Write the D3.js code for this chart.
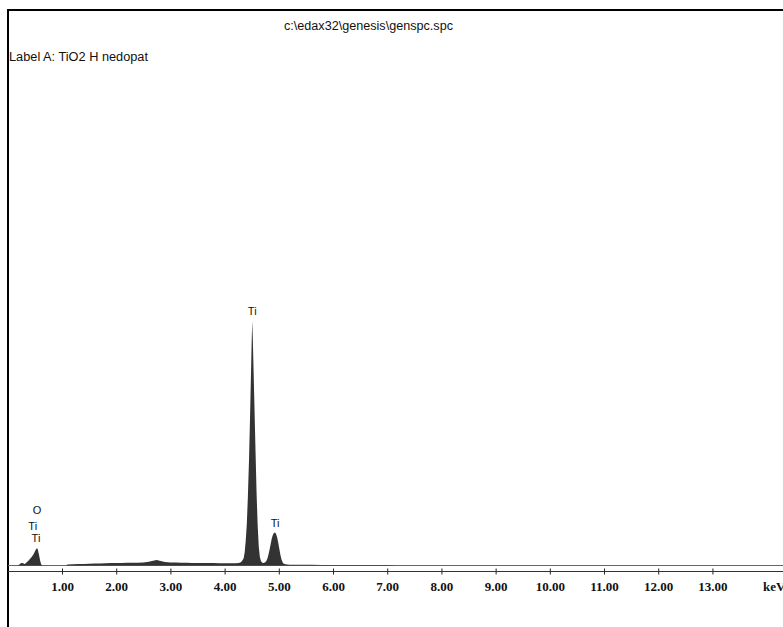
<!DOCTYPE html>
<html>
<head>
<meta charset="utf-8">
<script src="https://cdn.jsdelivr.net/npm/d3@7"></script>
<style>
  html, body { margin: 0; padding: 0; background: #ffffff; }
  svg { display: block; }
</style>
</head>
<body>
<svg id="chart" width="783" height="627"></svg>
<script>
// ---------- data ----------
const titleText = "c:\\edax32\\genesis\\genspc.spc";
const labelText = "Label A: TiO2 H nedopat";
const axisUnit = "keV";

const energies = [
  0.18, 0.20, 0.22, 0.24, 0.26, 0.28, 0.30, 0.32, 0.34, 0.36, 0.38, 0.40, 0.42, 0.44, 0.46, 0.48, 0.50, 0.52, 0.54, 0.55, 0.56, 0.58, 0.60, 0.62, 0.64,
  1.08, 1.10, 1.20, 1.30, 1.40, 1.50, 1.60, 1.70, 1.80, 1.90, 2.00, 2.10, 2.20, 2.30, 2.40, 2.50, 2.60, 2.70, 2.75, 2.80, 2.90,
  3.00, 3.10, 3.20, 3.30, 3.40, 3.50, 3.60, 3.70, 3.80, 3.90, 4.00, 4.10, 4.20, 4.26, 4.30,
  4.32, 4.35, 4.37, 4.39, 4.41, 4.43, 4.45, 4.47, 4.49, 4.50, 4.51, 4.52, 4.53, 4.55, 4.57, 4.59, 4.61, 4.63, 4.65, 4.67, 4.69, 4.71, 4.73,
  4.75, 4.77, 4.79, 4.81, 4.83, 4.85, 4.87, 4.89, 4.91, 4.93, 4.95, 4.97, 4.99, 5.01, 5.03, 5.05, 5.07, 5.09, 5.12,
  5.20, 5.40, 5.60, 5.80, 6.00, 6.20, 6.40, 6.60, 6.80, 7.00, 7.10, 7.15, 14.3
];
const counts = [
  0, 4, 12, 22, 26, 24, 14, 18, 28, 38, 48, 60, 72, 86, 100, 118, 140, 162, 172, 165, 145, 95, 40, 8, 0,
  0, 10, 13, 15, 16, 18, 19, 21, 22, 24, 26, 25, 27, 27, 28, 31, 38, 50, 54, 47, 36,
  31, 29, 28, 27, 26, 26, 25, 24, 24, 23, 22, 22, 23, 26, 32,
  45, 70, 130, 250, 420, 700, 1050, 1500, 2000, 2250, 2450, 2270, 2050, 1600, 1150, 720, 400, 190, 85, 45, 30, 26, 28,
  32, 45, 70, 110, 160, 215, 270, 305, 325, 330, 315, 280, 225, 165, 105, 60, 32, 18, 12,
  8, 7, 7, 6, 6, 6, 5, 5, 4, 4, 3, 0, 0
];

const tickValues = [1,2,3,4,5,6,7,8,9,10,11,12,13];

const peakLabels = ["O", "Ti", "Ti", "Ti", "Ti"];
const peakLabelEnergy = [0.54, 0.46, 0.52, 4.51, 4.93];
const peakLabelLevel = [550, 390, 270, 2545, 425];

// ---------- drawing ----------
const svg = d3.select("#chart");
const W = 783, H = 627;

const x = d3.scaleLinear().domain([0, 14.3]).range([7.8, 782.9]);
const y = d3.scaleLinear().domain([0, 2450]).range([565.5, 320.5]);

svg.append("rect").attr("width", W).attr("height", H).attr("fill", "#ffffff");

// frame: top and left borders
svg.append("line").attr("x1", 7).attr("x2", W).attr("y1", 10).attr("y2", 10)
  .attr("stroke", "#000").attr("stroke-width", 2);
svg.append("line").attr("x1", 8).attr("x2", 8).attr("y1", 9).attr("y2", H)
  .attr("stroke", "#000").attr("stroke-width", 2);

// title & label
svg.append("text").attr("x", 368.5).attr("y", 30)
  .attr("text-anchor", "middle")
  .attr("font-family", "'Liberation Sans Narrow','Arial Narrow','Liberation Sans',sans-serif")
  .attr("font-size", 12).attr("fill", "#111")
  .attr("textLength", 169).attr("lengthAdjust", "spacingAndGlyphs")
  .text(titleText);
svg.append("text").attr("x", 9).attr("y", 61)
  .attr("font-family", "'Liberation Sans Narrow','Arial Narrow','Liberation Sans',sans-serif")
  .attr("font-size", 12).attr("fill", "#111")
  .attr("textLength", 139).attr("lengthAdjust", "spacingAndGlyphs")
  .text(labelText);

// baseline of spectrum
svg.append("line").attr("x1", 8).attr("x2", W).attr("y1", y(0)).attr("y2", y(0))
  .attr("stroke", "#666").attr("stroke-width", 1);

// spectrum area
const pts = energies.map((e, i) => [e, counts[i]]);
const area = d3.area()
  .x(d => x(d[0]))
  .y0(y(0))
  .y1(d => y(d[1]))
  .curve(d3.curveLinear);
svg.append("path").datum(pts).attr("d", area).attr("fill", "#333");

// axis
const axisY = 571.5;
const axis = d3.axisBottom(x)
  .tickValues(tickValues)
  .tickFormat(d3.format(".2f"))
  .tickSizeInner(3)
  .tickSizeOuter(0);
const gAxis = svg.append("g").attr("transform", `translate(0,${axisY})`).call(axis);
gAxis.select(".domain").remove();
gAxis.selectAll(".tick line").attr("y1", -3).attr("y2", 3).attr("stroke", "#222");
gAxis.selectAll(".tick text")
  .attr("y", 15).attr("dy", "0.35em")
  .attr("font-family", "'Liberation Serif','Times New Roman',serif")
  .attr("font-weight", "bold").attr("font-size", 13).attr("fill", "#111");
svg.append("line").attr("x1", 8).attr("x2", W).attr("y1", axisY).attr("y2", axisY)
  .attr("stroke", "#333").attr("stroke-width", 1);
svg.append("text").attr("x", 763).attr("y", axisY + 15).attr("dy", "0.35em")
  .attr("font-family", "'Liberation Serif','Times New Roman',serif")
  .attr("font-weight", "bold").attr("font-size", 13).attr("fill", "#111")
  .text(axisUnit);

// peak labels
svg.append("g").selectAll("text").data(peakLabels).join("text")
  .attr("x", (d, i) => x(peakLabelEnergy[i]))
  .attr("y", (d, i) => y(peakLabelLevel[i]))
  .attr("dy", "0.35em")
  .attr("text-anchor", "middle")
  .attr("font-family", "'Liberation Sans',Arial,sans-serif")
  .attr("font-size", 11).attr("fill", "#111")
  .text(d => d);
</script>
</body>
</html>
